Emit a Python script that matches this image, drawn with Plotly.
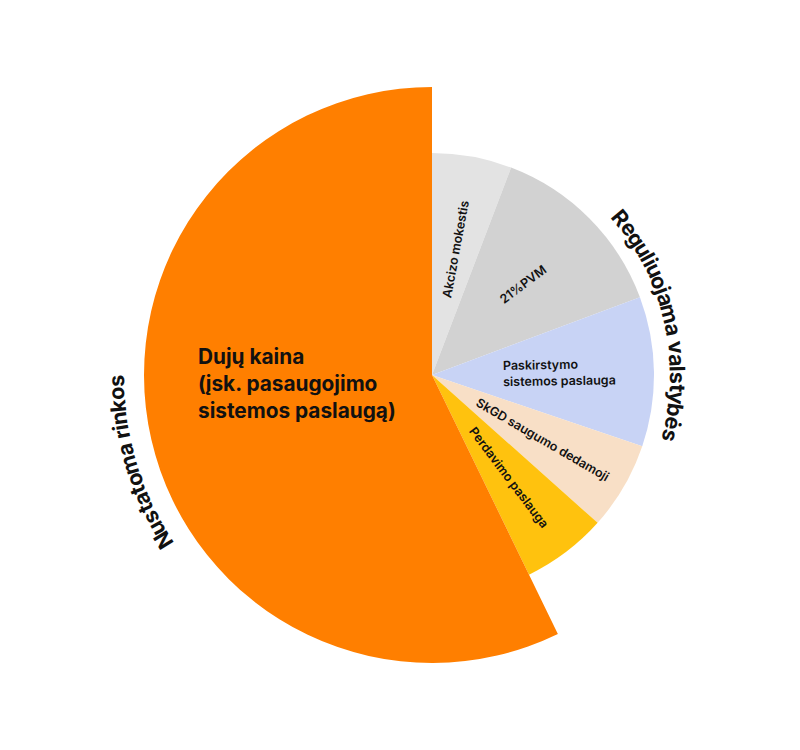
import math
import numpy as np
import plotly.graph_objects as go

# slices, clockwise from 12 o'clock
labels = [
    "Akcizo mokestis",
    "21%PVM",
    "Paskirstymo<br>sistemos paslauga",
    "SkGD saugumo dedamoji",
    "Perdavimo paslauga",
    "Dujų kaina<br>(įsk. pasaugojimo<br>sistemos paslaugą)",
]
shares = [5.8, 13.5, 10.9, 6.4, 6.2, 57.2]          # % of the circle
radius = [222, 222, 222, 222, 222, 288]               # outer radius of each slice
colors = ["#E3E3E3", "#D2D2D2", "#C8D3F5", "#F8DFC6", "#FFC20E", "#FF7F00"]

groups = ["Reguliuojama valstybės", "Nustatoma rinkos"]
group_slices = [[0, 1, 2, 3, 4], [5]]

W, H = 800, 750
CX, CY = 424, 367      # centre of the pie in figure pixels (page adds 8px body margin)
R_MAX = 300            # radial range -> 1 unit == 1 px

widths = [s * 3.6 for s in shares]
starts = np.concatenate([[0], np.cumsum(widths)[:-1]])
mids = starts + np.array(widths) / 2

fig = go.Figure(go.Barpolar(
    r=radius, theta=mids, width=widths,
    marker=dict(color=colors, line=dict(width=0)),
    hoverinfo="skip", showlegend=False,
))


def to_paper(theta, r):
    t = math.radians(theta)
    x = CX + r * math.sin(t)
    y = CY - r * math.cos(t)
    return x / W, 1 - y / H


def norm_angle(a):
    a = a % 360
    return a - 360 if a > 180 else a


anns = []
# slice labels, written along the radius (PVM one sits a bit flatter)
tilt = [0, 8, 0, 0, 0]
for i in range(5):
    x, y = to_paper(mids[i], 128)
    anns.append(dict(
        x=x, y=y, xref="paper", yref="paper", text=labels[i],
        showarrow=False, textangle=norm_angle(mids[i] - 90 + tilt[i]),
        font=dict(family="Inter", size=12.5, color="#111111", weight=600),
        xanchor="center", yanchor="middle", align="left",
    ))

# big label
x, y = to_paper(266.5, 135)
anns.append(dict(
    x=x, y=y, xref="paper", yref="paper", text=labels[5],
    showarrow=False, align="left",
    font=dict(family="Inter", size=20.8, color="#111111", weight=700),
    xanchor="center", yanchor="middle",
))


def char_w(c, size):
    if c in "ijl":
        k = 0.27
    elif c == " ":
        k = 0.28
    elif c in "frt":
        k = 0.38
    elif c == "m":
        k = 0.86
    elif c == "w":
        k = 0.78
    elif c.isupper():
        k = 0.70
    else:
        k = 0.58
    return k * size


# curved group titles
group_r = [246, 316]
group_shift = [0, -3.5]
for g, name in enumerate(groups):
    idx = group_slices[g]
    g_mid = (starts[idx[0]] + starts[idx[-1]] + widths[idx[-1]]) / 2 + group_shift[g]
    size = 21.5
    r = group_r[g]
    ws = [char_w(c, size) for c in name]
    total = sum(ws) / r * 180 / math.pi
    a = g_mid - total / 2
    for c, w in zip(name, ws):
        da = w / r * 180 / math.pi
        ca = a + da / 2
        a += da
        if c == " ":
            continue
        x, y = to_paper(ca, r)
        anns.append(dict(
            x=x, y=y, xref="paper", yref="paper", text=c,
            showarrow=False, textangle=norm_angle(ca),
            font=dict(family="Inter", size=size, color="#111111", weight=700),
            xanchor="center", yanchor="middle",
        ))

fig.update_layout(
    width=W, height=H,
    margin=dict(l=0, r=0, t=0, b=0),
    paper_bgcolor="white",
    plot_bgcolor="white",
    polar=dict(
        domain=dict(x=[(CX - R_MAX) / W, (CX + R_MAX) / W],
                    y=[1 - (CY + R_MAX) / H, 1 - (CY - R_MAX) / H]),
        bgcolor="white",
        bargap=0,
        radialaxis=dict(range=[0, R_MAX], visible=False),
        angularaxis=dict(direction="clockwise", rotation=90, visible=False),
    ),
    annotations=anns,
)

fig.write_html("out.html")
